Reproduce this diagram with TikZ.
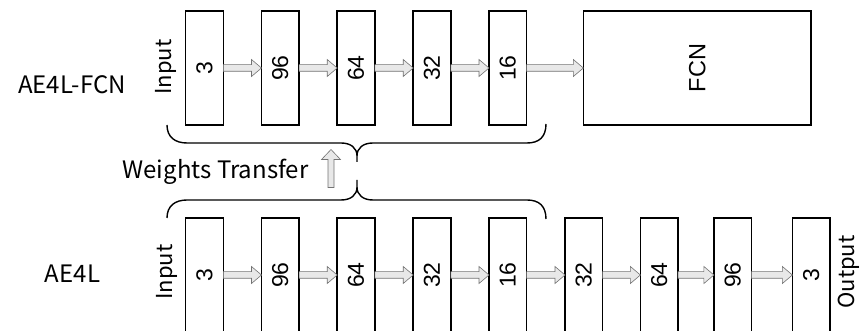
\documentclass[tikz,border=0pt]{standalone}
\usepackage{fontspec}
\setmainfont{Liberation Sans}
\newfontfamily\gothic{Noto Sans CJK JP}
\usetikzlibrary{calc}
\newcommand\rt[1]{\rotatebox{90}{#1}}
\tikzset{
  layerbox/.style={draw, line width=1.5pt, minimum width=37.6pt, minimum height=114pt,
    inner sep=0pt, outer sep=0pt, font=\fontsize{23}{23}\selectfont},
  fcnbox/.style={layerbox, minimum width=227.7pt, font=\fontsize{23.5}{23.5}\selectfont},
  flow/.style={fill=black!9, draw=black!55, line width=0.6pt},
  brace/.style={draw, line width=1.4pt},
  netlabel/.style={inner sep=0pt, font=\gothic\fontsize{24}{24}\selectfont},
  sidelabel/.style={inner sep=0pt, font=\gothic\fontsize{22}{22}\selectfont}
}
\newcommand\fatarrow[2]{%
  \filldraw[flow] let \p1=(#1.east), \p2=(#2.west) in
    (\x1,\y1+3.3pt) -- (\x2-10pt,\y1+3.3pt) -- (\x2-10pt,\y1+8.5pt) -- (\x2,\y1)
    -- (\x2-10pt,\y1-8.5pt) -- (\x2-10pt,\y1-3.3pt) -- (\x1,\y1-3.3pt) -- cycle;}
\begin{document}
\begin{tikzpicture}[x=1pt,y=-1pt]
\path[use as bounding box] (0,0) rectangle (860,331);
\clip (0,0) rectangle (860,331);
% top row
\node[layerbox] (t1) at (204.5,68) {\rt{3}};
\node[layerbox] (t2) at (280.3,68) {\rt{96}};
\node[layerbox] (t3) at (356,68) {\rt{64}};
\node[layerbox] (t4) at (432,68) {\rt{32}};
\node[layerbox] (t5) at (507.8,68) {\rt{16}};
\node[fcnbox] (fcn) at (697.2,68) {\rt{FCN}};
\fatarrow{t1}{t2}
\fatarrow{t2}{t3}
\fatarrow{t3}{t4}
\fatarrow{t4}{t5}
\fatarrow{t5}{fcn}
% bottom row
\node[layerbox] (b1) at (204.5,275) {\rt{3}};
\node[layerbox] (b2) at (280.3,275) {\rt{96}};
\node[layerbox] (b3) at (356,275) {\rt{64}};
\node[layerbox] (b4) at (432,275) {\rt{32}};
\node[layerbox] (b5) at (507.8,275) {\rt{16}};
\node[layerbox] (b6) at (583.8,275) {\rt{32}};
\node[layerbox] (b7) at (659.2,275) {\rt{64}};
\node[layerbox] (b8) at (732.7,275) {\rt{96}};
\node[layerbox] (b9) at (811.2,275) {\rt{3}};
\fatarrow{b1}{b2}
\fatarrow{b2}{b3}
\fatarrow{b3}{b4}
\fatarrow{b4}{b5}
\fatarrow{b5}{b6}
\fatarrow{b6}{b7}
\fatarrow{b7}{b8}
\fatarrow{b8}{b9}
% labels
\node[netlabel] (lfcn) at (72,85) {AE4L-FCN};
\node[netlabel] (lae) at (72.5,274) {AE4L};
\node[sidelabel] (in1) at (166,67) {\rt{Input}};
\node[sidelabel] (in2) at (166.5,272) {\rt{Input}};
\node[sidelabel] (out) at (849,272) {\rt{Output}};
\node[netlabel, anchor=base] (wt) at (215.5,179) {Weights Transfer};
% braces
\draw[brace] (167,125) .. controls (167,137) and (175,143) .. (187,143) -- (341,143)
  .. controls (351,143) and (357,148) .. (357,156) -- (357,162)
  -- (357,156) .. controls (357,148) and (363,143) .. (373,143) -- (527,143)
  .. controls (539,143) and (546,137) .. (546,124);
\draw[brace] (167,218) .. controls (167,206) and (175,200) .. (187,200) -- (341,200)
  .. controls (351,200) and (357,195) .. (357,187) -- (357,180)
  -- (357,187) .. controls (357,195) and (363,200) .. (373,200) -- (527,200)
  .. controls (539,200) and (546,206) .. (546,219);
% transfer arrow
\filldraw[flow] (328,187.5) -- (328,159.5) -- (321.5,159.5) -- (331,149.5) -- (340.5,159.5)
  -- (334,159.5) -- (334,187.5) -- cycle;
\end{tikzpicture}
\end{document}
